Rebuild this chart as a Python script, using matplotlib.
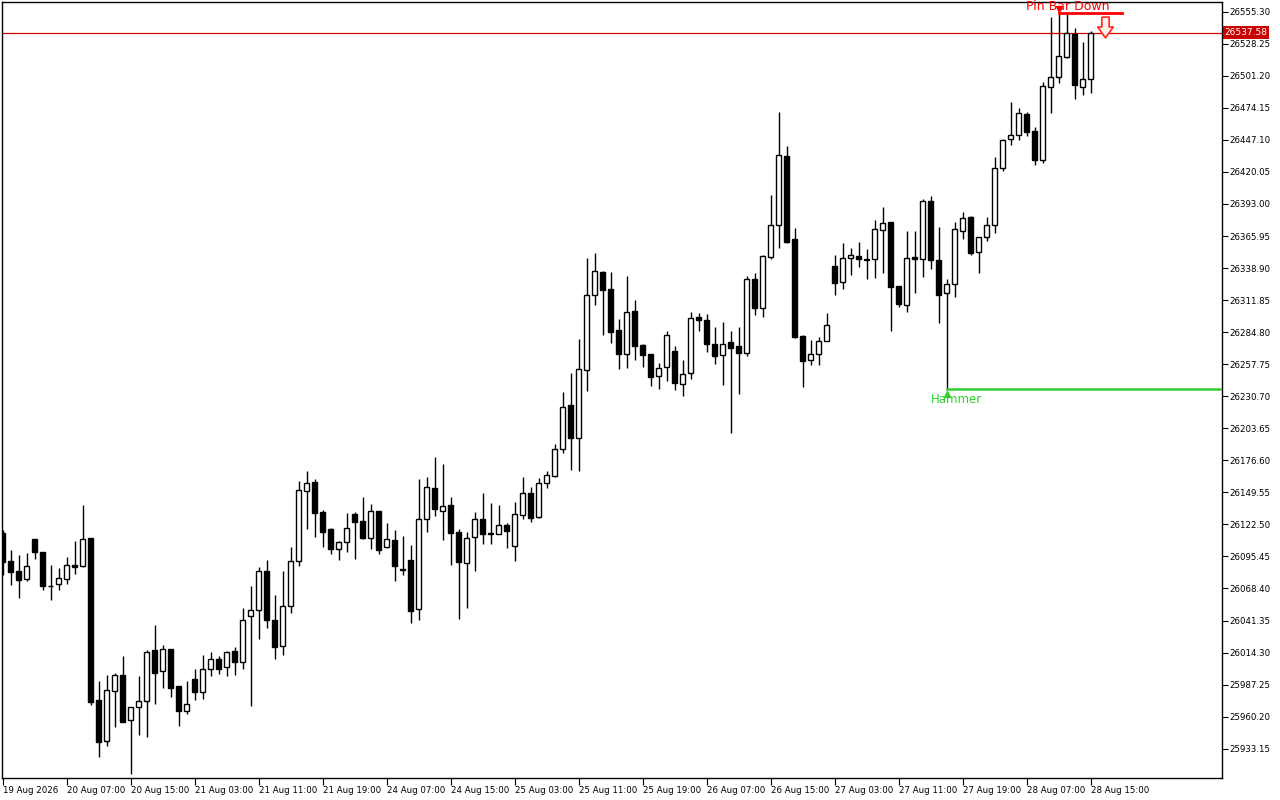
import matplotlib
matplotlib.use('Agg')
import matplotlib.pyplot as plt
from matplotlib.path import Path
import numpy as np

# hourly bars, 19 Aug - 28 Aug 2026
opens = [26115.2, 26091.6, 26083.2, 26076.7, 26109.8, 26098.8, 26070.9, 26071.9, 26076.2, 26088.0,
         26087.4, 26110.8, 25974.3, 25939.9, 25982.1, 25995.4, 25957.1, 25968.6, 25973.7, 26016.5,
         25998.5, 26017.1, 25985.8, 25965.2, 25991.7, 25980.8, 26000.2, 26008.6, 26001.9, 26015.4,
         26006.1, 26044.9, 26050.0, 26082.9, 26041.5, 26019.8, 26053.4, 26091.9, 26150.9, 26158.3,
         26133.0, 26118.6, 26102.0, 26107.9, 26131.3, 26125.4, 26111.3, 26133.6, 26103.7, 26109.3,
         26084.7, 26092.2, 26050.8, 26126.8, 26153.0, 26133.6, 26138.6, 26115.8, 26089.7, 26111.6,
         26126.8, 26115.1, 26114.1, 26121.7, 26104.5, 26130.7, 26148.8, 26128.5, 26157.2, 26163.6,
         26186.4, 26223.3, 26195.7, 26252.6, 26315.9, 26335.6, 26321.2, 26286.6, 26266.6, 26302.6,
         26273.7, 26266.1, 26247.5, 26255.1, 26268.9, 26241.3, 26250.1, 26297.6, 26295.0, 26274.5,
         26265.2, 26276.2, 26272.8, 26266.9, 26329.4, 26304.9, 26348.0, 26375.0, 26433.5, 26363.4,
         26281.5, 26261.0, 26266.1, 26277.3, 26340.6, 26326.9, 26347.1, 26349.1, 26346.5, 26346.3,
         26370.8, 26377.5, 26323.5, 26307.5, 26348.2, 26346.3, 26395.5, 26345.7, 26317.6, 26325.2,
         26369.9, 26382.0, 26352.2, 26364.9, 26375.0, 26423.1, 26447.6, 26451.0, 26468.9, 26454.6,
         26430.4, 26491.5, 26499.9, 26517.3, 26536.5, 26492.0, 26498.2]
highs = [26117.8, 26100.9, 26096.7, 26098.4, 26110.2, 26099.2, 26088.2, 26085.7, 26095.0, 26108.5,
         26138.9, 26111.0, 25990.3, 25995.4, 25997.1, 26011.4, 25968.4, 25994.5, 26016.5, 26037.6,
         26020.7, 26017.3, 25986.1, 25990.3, 26000.4, 26012.2, 26014.8, 26011.4, 26015.6, 26019.0,
         26051.7, 26070.5, 26086.5, 26092.4, 26062.9, 26083.2, 26103.2, 26158.9, 26167.6, 26160.8,
         26134.7, 26119.5, 26108.5, 26132.1, 26132.9, 26145.6, 26139.7, 26133.8, 26123.7, 26117.8,
         26112.7, 26105.1, 26160.8, 26162.5, 26179.1, 26173.2, 26145.6, 26118.6, 26115.8, 26132.7,
         26148.8, 26140.3, 26138.6, 26123.4, 26141.2, 26162.3, 26153.8, 26161.4, 26167.3, 26190.4,
         26234.3, 26250.3, 26279.0, 26347.4, 26351.6, 26336.4, 26335.6, 26295.9, 26332.2, 26311.9,
         26274.5, 26266.3, 26258.8, 26285.8, 26273.1, 26261.0, 26301.8, 26300.7, 26299.9, 26289.1,
         26293.4, 26285.5, 26288.9, 26332.2, 26334.7, 26349.9, 26400.6, 26470.6, 26441.9, 26372.7,
         26282.4, 26278.2, 26280.7, 26301.0, 26349.9, 26360.0, 26355.8, 26360.9, 26355.0, 26379.2,
         26390.2, 26377.8, 26323.8, 26370.2, 26370.2, 26397.2, 26400.0, 26373.6, 26329.7, 26377.8,
         26386.2, 26382.8, 26364.9, 26382.0, 26432.9, 26447.8, 26479.1, 26474.0, 26470.6, 26458.0,
         26496.0, 26550.8, 26554.2, 26553.4, 26541.3, 26529.7, 26539.0]
lows = [26079.8, 26071.3, 26060.6, 26075.0, 26093.5, 26067.1, 26058.7, 26067.1, 26072.2, 26080.6,
        26086.8, 25970.0, 25926.4, 25935.4, 25951.7, 25955.3, 25911.8, 25944.7, 25942.8, 25970.9,
        25984.6, 25977.1, 25952.3, 25962.7, 25974.5, 25975.4, 25994.8, 25996.0, 25994.8, 25995.6,
        26000.4, 25969.5, 26026.0, 26035.3, 26009.1, 26012.2, 26048.0, 26087.6, 26118.9, 26112.1,
        26103.7, 26097.8, 26092.7, 26099.5, 26093.5, 26110.4, 26102.0, 26097.8, 26102.8, 26075.0,
        26080.0, 26039.5, 26042.0, 26116.3, 26129.8, 26109.6, 26088.5, 26042.9, 26052.2, 26083.4,
        26106.2, 26106.2, 26114.0, 26102.8, 26091.9, 26127.3, 26124.5, 26128.3, 26153.5, 26162.3,
        26183.0, 26168.4, 26167.8, 26235.4, 26308.0, 26282.6, 26275.9, 26253.9, 26254.8, 26261.3,
        26255.6, 26239.6, 26237.1, 26243.8, 26236.2, 26230.6, 26245.5, 26286.0, 26268.3, 26258.2,
        26240.4, 26199.9, 26232.8, 26264.9, 26299.5, 26297.8, 26346.8, 26356.1, 26360.3, 26280.1,
        26238.7, 26257.1, 26257.1, 26276.9, 26316.2, 26321.5, 26333.0, 26340.0, 26329.9, 26330.8,
        26334.5, 26286.0, 26306.3, 26301.5, 26317.6, 26331.6, 26337.8, 26292.3, 26236.4, 26314.7,
        26363.7, 26349.7, 26335.0, 26362.0, 26368.2, 26421.1, 26443.0, 26447.3, 26450.6, 26426.1,
        26427.8, 26470.0, 26495.4, 26516.6, 26481.4, 26485.2, 26486.9]
closes = [26090.8, 26082.6, 26075.8, 26087.1, 26099.0, 26070.8, 26070.5, 26077.0, 26088.0, 26086.5,
          26109.9, 25972.8, 25939.1, 25982.5, 25995.1, 25955.9, 25968.1, 25973.4, 26014.5, 25997.3,
          26017.1, 25984.6, 25965.2, 25970.6, 25981.3, 26000.2, 26008.6, 26000.7, 26014.8, 26006.6,
          26041.5, 26050.0, 26082.9, 26042.1, 26019.3, 26053.6, 26091.3, 26151.3, 26157.2, 26132.4,
          26116.3, 26102.0, 26107.4, 26119.2, 26124.8, 26111.0, 26133.6, 26101.1, 26109.9, 26087.6,
          26084.4, 26049.6, 26126.8, 26153.8, 26135.2, 26137.8, 26115.5, 26091.0, 26110.8, 26126.8,
          26114.7, 26114.8, 26121.7, 26117.2, 26131.0, 26148.8, 26128.2, 26157.2, 26164.0, 26185.9,
          26221.4, 26195.7, 26253.7, 26315.9, 26336.2, 26320.6, 26285.2, 26266.6, 26301.5, 26273.4,
          26265.8, 26247.2, 26254.3, 26282.1, 26242.1, 26249.2, 26296.5, 26294.8, 26274.5, 26264.4,
          26274.5, 26271.2, 26266.9, 26329.4, 26304.9, 26349.1, 26375.0, 26434.3, 26361.1, 26280.7,
          26260.7, 26266.1, 26277.3, 26290.6, 26326.5, 26347.4, 26349.7, 26346.3, 26345.4, 26371.6,
          26376.7, 26323.2, 26308.8, 26347.4, 26346.8, 26395.5, 26345.4, 26316.4, 26325.2, 26371.6,
          26380.9, 26351.9, 26364.7, 26375.0, 26423.1, 26446.7, 26451.0, 26469.5, 26454.0, 26430.4,
          26492.3, 26499.9, 26517.7, 26537.1, 26493.7, 26498.2, 26537.58]

time_labels = ['19 Aug 2026', '20 Aug 07:00', '20 Aug 15:00', '21 Aug 03:00', '21 Aug 11:00',
               '21 Aug 19:00', '24 Aug 07:00', '24 Aug 15:00', '25 Aug 03:00', '25 Aug 11:00',
               '25 Aug 19:00', '26 Aug 07:00', '26 Aug 15:00', '27 Aug 03:00', '27 Aug 11:00',
               '27 Aug 19:00', '28 Aug 07:00', '28 Aug 15:00']
bars_per_label = 8

# price scale of the terminal
price_step = 27.05
price_first = 25933.15
price_count = 24
y_min, y_max = 25908.4, 26563.5

# pattern marks
hammer_bar = 118
hammer_price = 26236.4
pin_bar = 132
pin_price = 26554.0
pin_line_end = 139.9
arrow_bar = 137.8
arrow_price = 26542.0
bid = closes[-1]

o = np.array(opens)
h = np.array(highs)
l = np.array(lows)
c = np.array(closes)
x = np.arange(len(o))

fig = plt.figure(figsize=(12.8, 8), dpi=100)
ax = fig.add_axes([2/1280, 22/800, 1220/1280, 776/800])

# candles
ax.vlines(x, l, h, color='black', linewidth=1, zorder=2)
up = c >= o
bottom = np.minimum(o, c)
height = np.maximum(np.abs(c - o), 0.01)
ax.bar(x[up], height[up], bottom=bottom[up], width=0.62, color='white',
       edgecolor='black', linewidth=1, zorder=3)
ax.bar(x[~up], height[~up], bottom=bottom[~up], width=0.62, color='black',
       edgecolor='black', linewidth=1, zorder=3)

# bid line
ax.axhline(bid, color='#d40000', linewidth=0.9, zorder=1)

# hammer
ax.plot([hammer_bar, 160], [hammer_price, hammer_price], color='#32cd32', linewidth=1.8, zorder=4)
ax.plot(hammer_bar, hammer_price - 3.5, marker='^', color='#32cd32', markersize=5, zorder=5)
ax.text(hammer_bar + 1.2, hammer_price - 8.5, 'Hammer', color='#32cd32', fontsize=8.5,
        ha='center', va='center', zorder=5)

# pin bar down
ax.plot([pin_bar, pin_line_end], [pin_price, pin_price], color='#ff0000', linewidth=2, zorder=4)
ax.plot(pin_bar, pin_price + 4, marker='v', color='#ff0000', markersize=5, zorder=5)
ax.text(pin_bar + 1.1, pin_price + 5.5, 'Pin Bar Down', color='#ff0000', fontsize=9,
        ha='center', va='center', zorder=5, clip_on=False)
arrow = Path([(-0.35, 1), (0.35, 1), (0.35, 0.05), (0.75, 0.05), (0, -1),
              (-0.75, 0.05), (-0.35, 0.05), (-0.35, 1)])
ax.plot(arrow_bar, arrow_price, marker=arrow, markersize=15, markerfacecolor='#fff2ec',
        markeredgecolor='#ff2a1a', markeredgewidth=1.2, zorder=5)

ax.set_xlim(-0.09, 152.4)
ax.set_ylim(y_min, y_max)

# price axis
ax.yaxis.tick_right()
yt = price_first + price_step * np.arange(price_count)
ax.set_yticks(yt)
ax.set_yticklabels(['%.2f' % v for v in yt])
ax.tick_params(axis='y', direction='out', length=4, width=0.8, pad=1, labelsize=6.2)

# time axis
xt = np.arange(len(time_labels)) * bars_per_label
ax.set_xticks(xt)
ax.set_xticklabels(time_labels)
ax.tick_params(axis='x', direction='out', length=5, width=0.8, pad=1, labelsize=6.2)
for lab in ax.get_xticklabels():
    lab.set_horizontalalignment('left')

for s in ax.spines.values():
    s.set_linewidth(1)
    s.set_color('black')

# bid label
ax.text(1.002, bid, '%.2f' % bid, transform=ax.get_yaxis_transform(), color='white',
        fontsize=6.5, ha='left', va='center', zorder=6, clip_on=False,
        bbox=dict(boxstyle='square,pad=0.2', facecolor='#c80000', edgecolor='none'))

fig.savefig('out.png', dpi=100)
plt.close()
